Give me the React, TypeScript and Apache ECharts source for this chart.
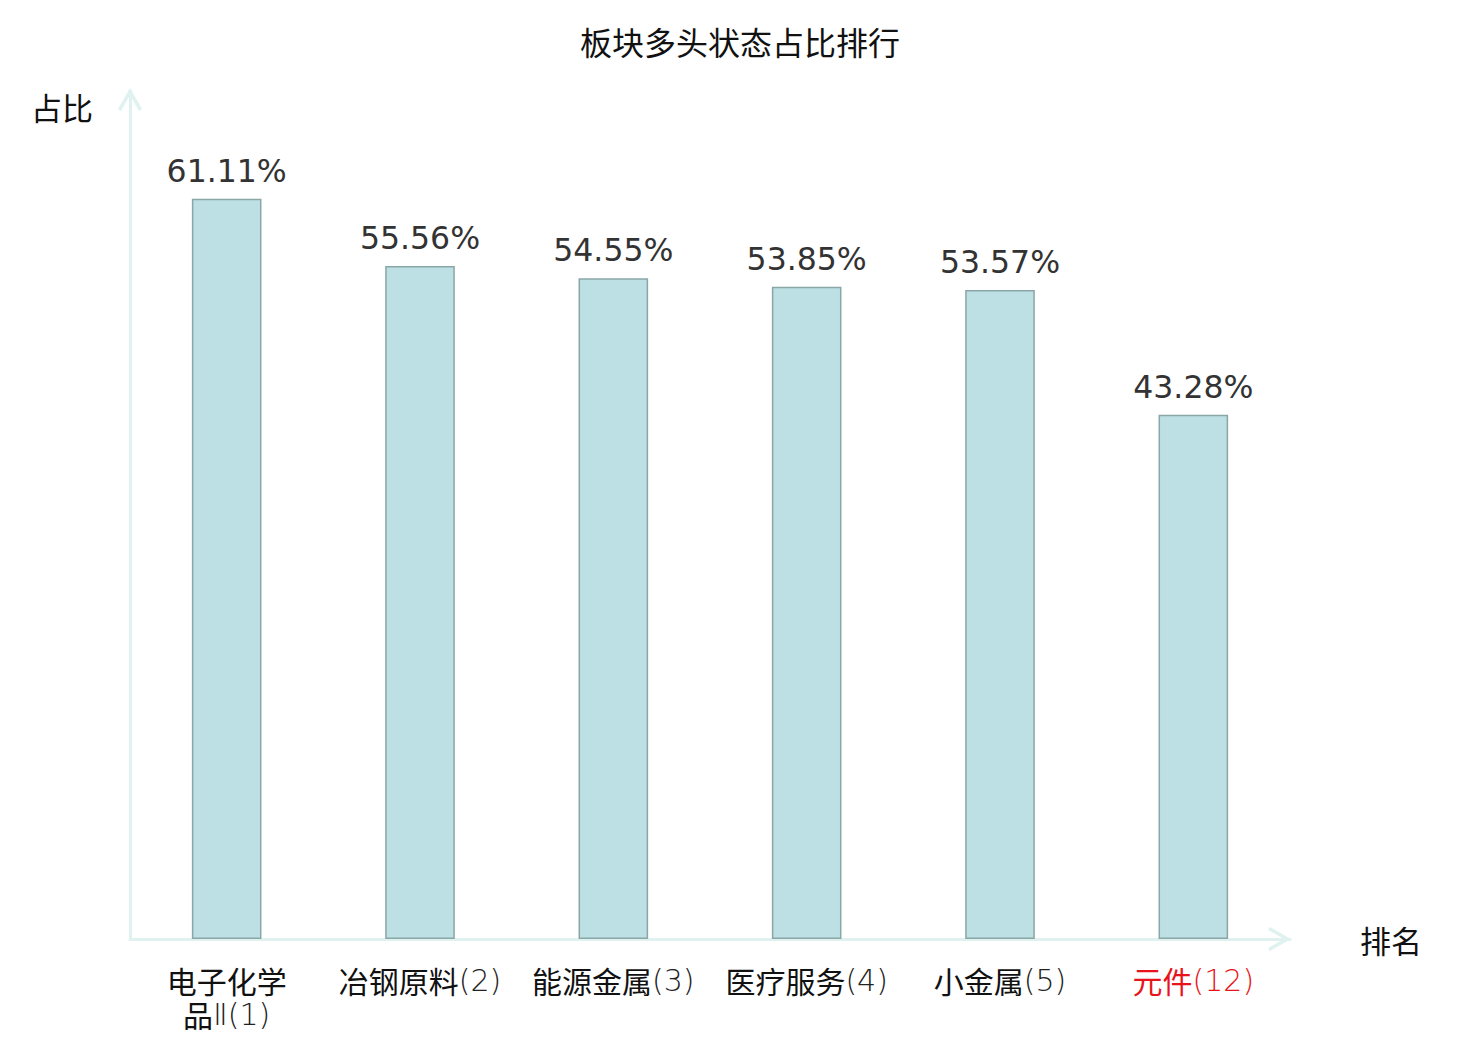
import React, { useEffect, useRef } from "react";
import * as echarts from "echarts";

const categories = ["电子化学品Ⅱ(1)", "冶钢原料(2)", "能源金属(3)", "医疗服务(4)", "小金属(5)", "元件(12)"];
const values = [61.11, 55.56, 54.55, 53.85, 53.57, 43.28];
const highlightIndex = 5;
const yMax = 70;

const AXIS_COLOR = "#dff2f0";
const CHEVRON = "path://M12,0 L24,21 L21,22.8 L12,7 L3,22.8 L0,21 Z";
const CJK_FONT = "'Noto Sans CJK SC', sans-serif";
const LATIN_FONT = "'DejaVu Sans ExtraLight', 'DejaVu Sans', sans-serif";

function labelFormatter(v: string, i: number) {
  const m = v.match(/^([\u4e00-\u9fff]+)(.*)$/);
  const cjk = m ? m[1] : v;
  const rest = m ? m[2] : "";
  const s = i === highlightIndex ? "r" : "";
  const a = "a" + s;
  const b = "b" + s;
  if (cjk.length > 4) {
    return `{${a}|${cjk.slice(0, 4)}}\n{${a}|${cjk.slice(4)}}{${b}|${rest}}`;
  }
  return `{${a}|${cjk}}{${b}|${rest}}`;
}

export default function App() {
  const ref = useRef<HTMLDivElement>(null);
  useEffect(() => {
    if (!ref.current) return;
    const chart = echarts.init(ref.current, undefined, { renderer: "svg" });
    const base = { fontSize: 30, lineHeight: 34 };
    chart.setOption({
      animation: false,
      backgroundColor: "#fff",
      title: {
        text: "板块多头状态占比排行",
        left: "center",
        top: 20,
        textStyle: { fontFamily: "Noto Sans CJK SC", fontSize: 32, fontWeight: "normal", color: "#111" },
      },
      grid: { left: 130, right: 190, top: 91, bottom: 101, containLabel: false },
      xAxis: {
        type: "category",
        data: categories,
        name: "排名",
        nameLocation: "end",
        nameGap: 70,
        nameTextStyle: { fontFamily: "Noto Sans CJK SC", fontSize: 31, color: "#111", verticalAlign: "middle" },
        axisLine: {
          show: true,
          lineStyle: { color: AXIS_COLOR, width: 3 },
          symbol: ["none", CHEVRON],
          symbolSize: [24, 23],
          symbolOffset: [0, -10.5],
        },
        axisTick: { show: false },
        axisLabel: {
          interval: 0,
          margin: 24,
          fontSize: 30,
          lineHeight: 34,
          formatter: labelFormatter,
          rich: {
            a: { ...base, fontFamily: CJK_FONT, color: "#111" },
            b: { ...base, fontFamily: LATIN_FONT, fontWeight: 200, color: "#222" },
            ar: { ...base, fontFamily: CJK_FONT, color: "#e8141b" },
            br: { ...base, fontFamily: LATIN_FONT, fontWeight: 200, color: "#e8141b" },
          },
        },
        splitLine: { show: false },
      },
      yAxis: {
        type: "value",
        min: 0,
        max: yMax,
        name: "占比",
        nameLocation: "end",
        nameGap: 0,
        nameTextStyle: { fontFamily: "Noto Sans CJK SC", fontSize: 31, color: "#111", align: "right", padding: [0, 37, 0, 0], verticalAlign: "top" },
        axisLine: {
          show: true,
          lineStyle: { color: AXIS_COLOR, width: 3 },
          symbol: ["none", CHEVRON],
          symbolSize: [24, 23],
          symbolOffset: [0, -8.5],
        },
        axisTick: { show: false },
        axisLabel: { show: false },
        splitLine: { show: false },
      },
      series: [
        {
          type: "bar",
          data: values,
          barWidth: "36%",
          itemStyle: { color: "#bce0e3", borderColor: "#8aa6a6", borderWidth: 1.5 },
          label: {
            show: true,
            position: "top",
            distance: 12,
            formatter: (p: any) => p.value.toFixed(2) + "%",
            fontFamily: "DejaVu Sans",
            fontSize: 31.5,
            color: "#333",
          },
        },
      ],
    });
    return () => chart.dispose();
  }, []);
  return <div ref={ref} style={{ width: 1480, height: 1040, position: "absolute", left: 0, top: 0 }} />;
}
